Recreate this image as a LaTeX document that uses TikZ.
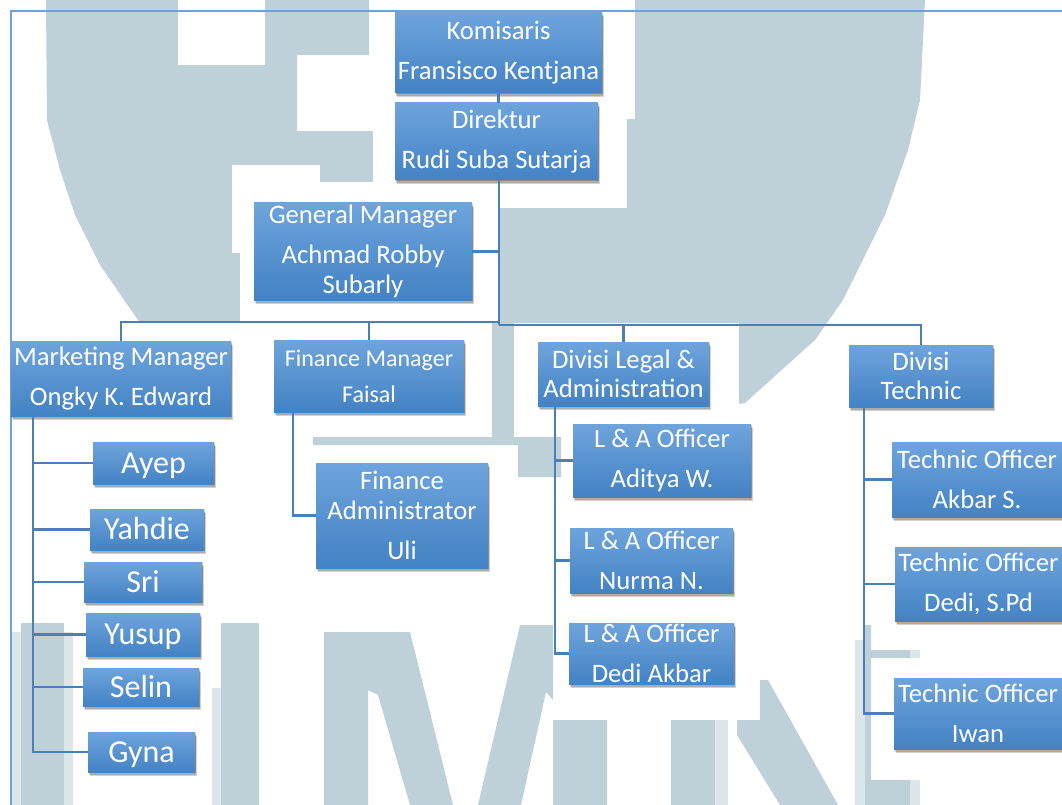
\documentclass[tikz,border=0pt]{standalone}
\usepackage{fontspec}
\setmainfont{Carlito}
\usepackage{tikz}
\definecolor{markgrey}{HTML}{BFD1D8}
\definecolor{markpale}{HTML}{DCE6EA}
\definecolor{boxtop}{HTML}{6EA4DC}
\definecolor{boxmid}{HTML}{5498DB}
\definecolor{boxbot}{HTML}{4382C4}
\definecolor{linkblue}{HTML}{4A80B8}
\definecolor{framblue}{HTML}{6FA3D8}
\tikzstyle{orgbox} = [rectangle, inner sep=0pt, text=white, align=center, preaction={fill=black, opacity=0.18, transform canvas={xshift=0.5pt, yshift=-1pt}}, preaction={fill=black, opacity=0.18, transform canvas={xshift=1.1pt, yshift=-2pt}}, preaction={fill=black, opacity=0.18, transform canvas={xshift=1.7pt, yshift=-3.2pt}}, top color=boxtop, middle color=boxmid, bottom color=boxbot, font=\fontsize{20}{22}\selectfont]
\tikzstyle{smallbox} = [orgbox, font=\fontsize{18}{22}\selectfont]
\tikzstyle{namebox} = [orgbox, text height=20pt, text depth=5pt, font=\fontsize{24}{26}\selectfont]
\tikzstyle{lowtext} = [execute at begin node={\vspace*{3pt}}]
\tikzstyle{link} = [draw=linkblue, line width=1.7pt]
\tikzset{bw/.style={minimum width=#1*0.75pt}, bh/.style={minimum height=#1*0.75pt}}

\begin{document}
\begin{tikzpicture}[x=0.75pt,y=-0.75pt]
  \useasboundingbox (0,0) rectangle (1062,805);
  \fill[white] (0,0) rectangle (1062,805);

  % watermark
  \fill[markgrey] (46,0) -- (47,120) -- (60,170) -- (75,215) -- (100,265) -- (140,323) -- (739,323) -- (739,404) -- (745,403) -- (815,340) -- (843,300) -- (885,215) -- (908,150) -- (920,100) -- (925,0) -- cycle;
  \fill[markgrey] (492,323) rectangle (514,445);
  \fill[markgrey] (313,437) -- (561,437) -- (561,477) -- (518,477) -- (518,445) -- (313,445) -- cycle;
  \fill[white] (178,0) rectangle (265,65);
  \fill[white] (369,0) rectangle (635,119);
  \fill[white] (297,55) rectangle (400,131);
  \fill[white] (373,119) rectangle (627,208);
  \fill[white] (232,165) rectangle (320,253);
  \fill[white] (240,182) rectangle (499,323);
  \fill[markpale] (12,632) rectangle (73,805);
  \fill[markgrey] (21,623) rectangle (64,805);
  \fill[markgrey] (221,623) rectangle (259,805);
  \fill[markpale] (212,688) rectangle (221,805);
  \fill[markgrey] (324,632) -- (410,632) -- (453,805) -- (410,805) -- (378,695) -- (368,690) -- (368,805) -- (324,805) -- cycle;
  \fill[markgrey] (520,625) -- (607,625) -- (607,805) -- (553,805) -- (553,700) -- (546,692) -- (521,805) -- (478,805) -- cycle;
  \fill[white] (553,623) rectangle (760,720);
  \fill[markgrey] (671,720) rectangle (715,805);
  \fill[markpale] (715,720) rectangle (728,805);
  \fill[markgrey] (737,720) -- (760,720) -- (760,680) -- (768,680) -- (838,805) -- (780,805) -- (737,735) -- cycle;
  \fill[markpale] (855,640) rectangle (865,805);
  \fill[markgrey] (865,625) rectangle (871,805);
  \fill[markgrey] (867,780) rectangle (910,805);
  \fill[markgrey] (871,650) rectangle (910,658);
  \fill[markpale] (910,650) rectangle (920,658);
  \fill[markpale] (910,780) rectangle (920,805);

  \coordinate (frameright) at (1062,11);
  \coordinate (framecorner) at (11,11);
  \coordinate (framebottom) at (11,805);
  \draw[framblue, line width=1.1pt] (frameright) -- (framecorner) -- (framebottom);

  \node [orgbox, lowtext, bw=207, bh=81] (komisaris) at (498.5,52.5) {Komisaris\\[8pt]Fransisco Kentjana};
  \node [orgbox, lowtext, bw=203, bh=77] (direktur) at (496.5,141.5) {Direktur\\[8pt]Rudi Suba Sutarja};
  \node [orgbox, lowtext, bw=218, bh=97] (gm) at (363,251.5) {General Manager\\[8pt]Achmad Robby\\Subarly};

  \node [orgbox, lowtext, bw=220, bh=75] (marketing) at (121,378.5) {Marketing Manager\\[8pt]Ongky K. Edward};
  \node [smallbox, bw=190, bh=72] (finance) at (369,376) {Finance Manager\\[5pt]Faisal};
  \node [orgbox, bw=171, bh=64] (legal) at (623.5,374) {Divisi Legal \&\\Administration};
  \node [orgbox, bw=144, bh=62] (technic) at (921,376) {Divisi\\Technic};

  \node [namebox, bw=121, bh=42] (ayep) at (153.5,463) {Ayep};
  \node [namebox, bw=114, bh=41] (yahdie) at (147,529.5) {Yahdie};
  \node [namebox, bw=118, bh=40] (sri) at (143,582) {Sri};
  \node [namebox, bw=114, bh=43] (yusup) at (143,634.5) {Yusup};
  \node [namebox, bw=116, bh=38] (selin) at (141,687) {Selin};
  \node [namebox, bw=107, bh=40] (gyna) at (141.5,752) {Gyna};

  \node [orgbox, bw=172, bh=105] (finadmin) at (402,515.5) {Finance\\Administrator\\[8pt]Uli};

  \node [orgbox, lowtext, bw=178, bh=73] (officera) at (662,460.5) {L \& A Officer\\[8pt]Aditya W.};
  \node [orgbox, bw=163, bh=65] (officerb) at (651.5,560.5) {L \& A Officer\\[8pt]Nurma N.};
  \node [orgbox, bw=165, bh=61] (officerc) at (651.5,653.5) {L \& A Officer\\[8pt]Dedi Akbar};

  \node [orgbox, bw=170, bh=75] (techa) at (977,479.5) {Technic Officer\\[8pt]Akbar S.};
  \node [orgbox, bw=167, bh=74] (techb) at (978.5,584) {Technic Officer\\[8pt]Dedi, S.Pd};
  \node [orgbox, bw=168, bh=71] (techc) at (978,713.5) {Technic Officer\\[8pt]Iwan};

  \coordinate (busleft) at (499,322);
  \coordinate (busright) at (499,325);
  \coordinate (marktop) at (33,416);
  \coordinate (fintop) at (293,412);
  \coordinate (legaltop) at (555,406);
  \coordinate (techtop) at (864,407);

  \path [link] (komisaris) -- (komisaris |- direktur.north);
  \path [link] (busright |- direktur.south) -- (busright);
  \path [link] (gm.east) -- (gm.east -| busleft);
  \path [link] (marketing.north) |- (busleft);
  \path [link] (finance.north) |- (busleft);
  \path [link] (legal.north) |- (busright);
  \path [link] (technic.north) |- (busright);
  \foreach \n in {ayep,yahdie,sri,yusup,selin,gyna}
    \path [link] (\n.west) -| (marktop);
  \path [link] (finadmin.west) -| (fintop);
  \foreach \n in {officera,officerb,officerc}
    \path [link] (\n.west) -| (legaltop);
  \foreach \n in {techa,techb,techc}
    \path [link] (\n.west) -| (techtop);
\end{tikzpicture}
\end{document}
